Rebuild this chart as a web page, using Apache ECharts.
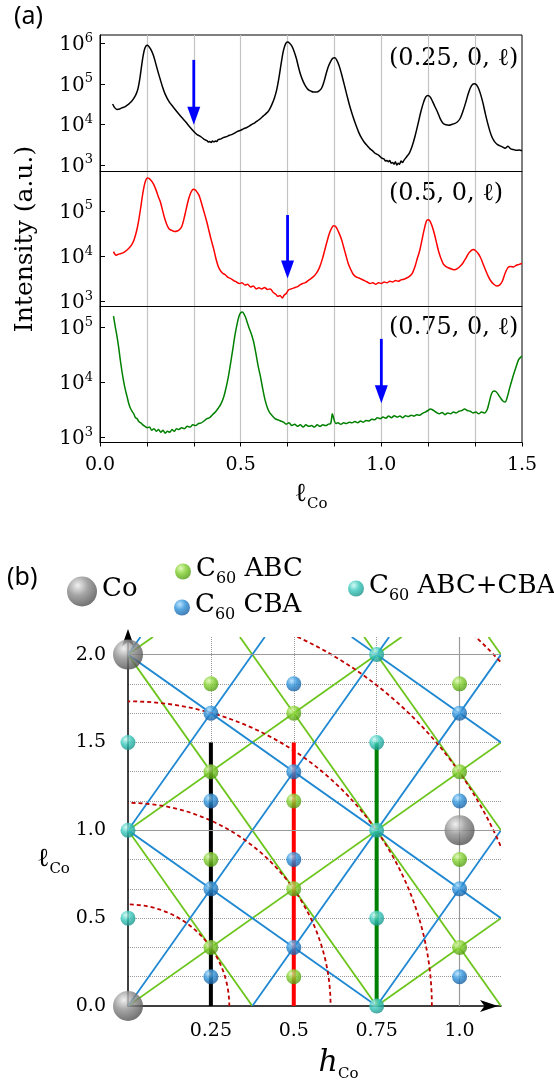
<!DOCTYPE html>
<html><head><meta charset="utf-8">
<script src="https://cdn.jsdelivr.net/npm/echarts@6/dist/echarts.min.js"></script>
<style>html,body{margin:0;padding:0;background:#fff}#c{width:554px;height:1089px}</style>
</head><body><div id="c"></div>
<script>
// ---------------- Panel (a) data: [l, intensity] ----------------
const scanBlack = [[0.045,3.2e4],[0.052,2.6e4],[0.060,2.35e4],[0.070,2.4e4],[0.080,2.6e4],[0.090,2.75e4],[0.100,3.1e4],[0.110,3.55e4],[0.120,4.4e4],[0.128,5.5e4],[0.135,7.6e4],[0.142,1.4e5],[0.150,3.55e5],[0.157,6.6e5],[0.163,8.5e5],[0.169,8.9e5],[0.175,8.1e5],[0.182,6.8e5],[0.190,5.0e5],[0.198,3.2e5],[0.206,2.0e5],[0.214,1.3e5],[0.222,8.5e4],[0.232,5.5e4],[0.245,3.7e4],[0.260,2.7e4],[0.275,2.0e4],[0.290,1.5e4],[0.305,1.15e4],[0.320,8.5e3],[0.335,6.5e3],[0.345,5.6e3],[0.352,5.3e3],[0.360,4.9e3],[0.370,4.3e3],[0.380,4.0e3],[0.385,3.7e3],[0.390,3.8e3],[0.395,3.6e3],[0.400,3.9e3],[0.405,3.7e3],[0.410,3.9e3],[0.415,3.8e3],[0.420,4.2e3],[0.430,4.4e3],[0.440,4.8e3],[0.450,5.0e3],[0.460,5.4e3],[0.470,5.7e3],[0.480,6.2e3],[0.490,6.8e3],[0.500,7.2e3],[0.510,7.8e3],[0.520,8.3e3],[0.530,9.1e3],[0.540,1.0e4],[0.550,1.1e4],[0.560,1.23e4],[0.570,1.38e4],[0.580,1.6e4],[0.590,1.85e4],[0.600,2.2e4],[0.610,3.0e4],[0.620,4.5e4],[0.628,7.1e4],[0.636,1.4e5],[0.644,3.2e5],[0.652,6.6e5],[0.660,9.8e5],[0.667,1.07e6],[0.674,1.0e6],[0.682,8.5e5],[0.690,6.3e5],[0.698,4.2e5],[0.706,2.5e5],[0.714,1.6e5],[0.722,1.15e5],[0.730,8.9e4],[0.740,7.2e4],[0.750,6.6e4],[0.760,6.3e4],[0.770,6.3e4],[0.780,6.8e4],[0.788,7.9e4],[0.796,1.12e5],[0.804,1.8e5],[0.812,2.7e5],[0.820,3.6e5],[0.828,4.3e5],[0.835,4.4e5],[0.842,3.8e5],[0.850,2.8e5],[0.858,1.8e5],[0.866,1.1e5],[0.874,6.6e4],[0.882,4.0e4],[0.890,2.5e4],[0.900,1.5e4],[0.910,9.5e3],[0.920,6.3e3],[0.930,4.6e3],[0.940,3.6e3],[0.950,3.0e3],[0.960,2.5e3],[0.970,2.2e3],[0.980,1.9e3],[0.990,1.75e3],[1.000,1.5e3],[1.005,1.45e3],[1.010,1.4e3],[1.015,1.25e3],[1.020,1.3e3],[1.025,1.2e3],[1.030,1.3e3],[1.035,1.1e3],[1.040,1.15e3],[1.045,1.05e3],[1.050,1.2e3],[1.055,1.0e3],[1.060,1.1e3],[1.065,1.05e3],[1.070,1.25e3],[1.075,1.15e3],[1.080,1.3e3],[1.090,1.6e3],[1.100,2.0e3],[1.110,3.0e3],[1.120,5.2e3],[1.130,1.0e4],[1.140,2.0e4],[1.150,3.5e4],[1.158,4.8e4],[1.166,5.2e4],[1.174,4.7e4],[1.182,3.7e4],[1.190,2.8e4],[1.200,2.0e4],[1.210,1.35e4],[1.220,1.05e4],[1.230,9.8e3],[1.240,9.6e3],[1.250,1.0e4],[1.260,1.05e4],[1.270,1.15e4],[1.280,1.4e4],[1.290,2.1e4],[1.300,3.5e4],[1.310,6.0e4],[1.320,8.9e4],[1.330,1.0e5],[1.338,9.5e4],[1.346,7.6e4],[1.354,5.2e4],[1.362,3.2e4],[1.370,1.8e4],[1.380,9.5e3],[1.390,5.6e3],[1.400,4.0e3],[1.410,3.3e3],[1.420,3.0e3],[1.430,2.8e3],[1.440,2.6e3],[1.450,2.9e3],[1.460,2.5e3],[1.470,2.4e3],[1.480,2.3e3],[1.490,2.35e3],[1.500,2.25e3]];

const scanRed = [[0.048,1.26e4],[0.053,1.1e4],[0.058,1.05e4],[0.065,1.1e4],[0.075,1.15e4],[0.085,1.22e4],[0.095,1.35e4],[0.105,1.55e4],[0.115,1.9e4],[0.122,2.4e4],[0.130,3.6e4],[0.137,5.9e4],[0.144,1.1e5],[0.150,2.0e5],[0.156,3.3e5],[0.162,4.6e5],[0.168,5.3e5],[0.174,5.2e5],[0.180,4.8e5],[0.186,4.3e5],[0.192,3.7e5],[0.200,2.8e5],[0.208,2.0e5],[0.215,1.55e5],[0.222,1.05e5],[0.230,6.8e4],[0.238,4.9e4],[0.246,4.0e4],[0.255,3.7e4],[0.265,3.5e4],[0.275,3.6e4],[0.283,3.9e4],[0.291,4.6e4],[0.298,6.5e4],[0.305,1.0e5],[0.312,1.55e5],[0.318,2.1e5],[0.325,2.7e5],[0.332,3.0e5],[0.338,2.9e5],[0.345,2.6e5],[0.352,2.2e5],[0.358,1.7e5],[0.365,1.2e5],[0.372,8.5e4],[0.380,5.6e4],[0.388,3.5e4],[0.396,2.2e4],[0.404,1.45e4],[0.412,8.9e3],[0.420,6.0e3],[0.428,4.8e3],[0.436,4.2e3],[0.445,3.9e3],[0.455,3.4e3],[0.465,3.2e3],[0.475,2.9e3],[0.485,2.7e3],[0.495,2.5e3],[0.505,2.6e3],[0.515,2.3e3],[0.525,2.4e3],[0.535,2.1e3],[0.545,2.2e3],[0.555,1.9e3],[0.565,2.0e3],[0.575,1.9e3],[0.585,2.05e3],[0.595,1.85e3],[0.605,1.9e3],[0.615,1.6e3],[0.625,1.45e3],[0.632,1.3e3],[0.640,1.35e3],[0.648,1.2e3],[0.655,1.4e3],[0.662,1.5e3],[0.670,1.8e3],[0.680,1.9e3],[0.690,2.0e3],[0.700,2.1e3],[0.710,2.3e3],[0.720,2.5e3],[0.730,2.6e3],[0.740,2.9e3],[0.750,3.2e3],[0.760,3.6e3],[0.770,4.3e3],[0.780,5.6e3],[0.790,8.5e3],[0.798,1.3e4],[0.806,2.0e4],[0.814,3.0e4],[0.822,4.0e4],[0.830,4.7e4],[0.836,4.6e4],[0.842,4.1e4],[0.850,3.2e4],[0.858,2.4e4],[0.866,1.6e4],[0.874,1.05e4],[0.882,7.0e3],[0.890,5.3e3],[0.900,4.0e3],[0.910,3.5e3],[0.920,3.3e3],[0.930,3.1e3],[0.940,2.9e3],[0.950,2.7e3],[0.960,2.5e3],[0.970,2.6e3],[0.980,2.4e3],[0.990,2.6e3],[1.000,2.5e3],[1.010,2.7e3],[1.020,2.6e3],[1.030,2.8e3],[1.040,2.7e3],[1.050,2.9e3],[1.060,2.8e3],[1.070,3.0e3],[1.080,3.1e3],[1.090,3.3e3],[1.100,3.6e3],[1.110,4.2e3],[1.120,6.0e3],[1.128,9.0e3],[1.136,1.3e4],[1.144,2.2e4],[1.152,3.8e4],[1.160,5.9e4],[1.166,6.4e4],[1.172,6.1e4],[1.180,4.7e4],[1.188,3.2e4],[1.196,2.0e4],[1.204,1.25e4],[1.212,8.9e3],[1.220,6.8e3],[1.230,5.9e3],[1.240,5.5e3],[1.250,5.2e3],[1.260,5.0e3],[1.270,5.3e3],[1.280,6.0e3],[1.290,7.1e3],[1.300,8.9e3],[1.310,1.15e4],[1.320,1.35e4],[1.328,1.4e4],[1.336,1.3e4],[1.344,1.15e4],[1.352,9.5e3],[1.360,7.2e3],[1.370,5.0e3],[1.380,3.6e3],[1.390,2.8e3],[1.400,2.4e3],[1.410,2.2e3],[1.420,2.3e3],[1.430,2.8e3],[1.440,4.2e3],[1.450,5.6e3],[1.460,5.9e3],[1.470,5.8e3],[1.480,6.3e3],[1.490,6.6e3],[1.500,7.0e3]];

const scanGreen = [[0.048,1.6e5],[0.054,1.05e5],[0.060,7.1e4],[0.066,4.5e4],[0.072,2.6e4],[0.078,1.6e4],[0.084,1.05e4],[0.090,7.4e3],[0.096,5.6e3],[0.102,4.2e3],[0.108,3.4e3],[0.114,3.0e3],[0.120,2.7e3],[0.126,2.3e3],[0.132,2.2e3],[0.138,1.95e3],[0.145,1.85e3],[0.152,1.7e3],[0.160,1.6e3],[0.168,1.5e3],[0.176,1.55e3],[0.184,1.35e3],[0.192,1.45e3],[0.200,1.3e3],[0.208,1.4e3],[0.216,1.25e3],[0.224,1.35e3],[0.232,1.2e3],[0.240,1.3e3],[0.248,1.25e3],[0.256,1.4e3],[0.264,1.3e3],[0.272,1.45e3],[0.280,1.4e3],[0.290,1.5e3],[0.300,1.45e3],[0.310,1.6e3],[0.320,1.55e3],[0.330,1.7e3],[0.340,1.65e3],[0.350,1.8e3],[0.360,1.85e3],[0.370,2.0e3],[0.380,2.2e3],[0.390,2.3e3],[0.400,2.6e3],[0.410,2.9e3],[0.420,3.4e3],[0.430,4.1e3],[0.440,5.5e3],[0.448,8.0e3],[0.456,1.25e4],[0.464,2.2e4],[0.472,4.0e4],[0.480,7.4e4],[0.488,1.2e5],[0.494,1.6e5],[0.500,1.85e5],[0.506,1.9e5],[0.512,1.75e5],[0.518,1.5e5],[0.524,1.2e5],[0.530,9.8e4],[0.538,7.6e4],[0.546,5.5e4],[0.554,3.4e4],[0.562,2.0e4],[0.570,1.3e4],[0.578,7.9e3],[0.586,5.0e3],[0.594,3.6e3],[0.602,2.9e3],[0.612,2.5e3],[0.622,2.2e3],[0.632,2.1e3],[0.642,2.0e3],[0.652,1.9e3],[0.662,1.75e3],[0.672,1.85e3],[0.682,1.65e3],[0.692,1.75e3],[0.702,1.6e3],[0.712,1.7e3],[0.722,1.55e3],[0.732,1.7e3],[0.742,1.6e3],[0.752,1.65e3],[0.762,1.55e3],[0.772,1.7e3],[0.782,1.6e3],[0.792,1.7e3],[0.802,1.65e3],[0.812,1.75e3],[0.820,1.8e3],[0.826,2.7e3],[0.832,2.1e3],[0.838,1.8e3],[0.846,1.85e3],[0.856,1.75e3],[0.866,1.85e3],[0.876,1.8e3],[0.886,1.9e3],[0.896,1.85e3],[0.906,1.95e3],[0.916,1.85e3],[0.926,2.0e3],[0.936,1.9e3],[0.946,2.05e3],[0.956,2.0e3],[0.966,2.15e3],[0.976,2.1e3],[0.986,2.3e3],[0.996,2.2e3],[1.006,2.35e3],[1.016,2.25e3],[1.026,2.45e3],[1.036,2.3e3],[1.046,2.5e3],[1.056,2.35e3],[1.066,2.45e3],[1.076,2.3e3],[1.086,2.5e3],[1.096,2.4e3],[1.106,2.55e3],[1.116,2.45e3],[1.126,2.6e3],[1.136,2.55e3],[1.146,2.75e3],[1.156,2.9e3],[1.166,3.1e3],[1.174,3.3e3],[1.182,3.2e3],[1.190,3.0e3],[1.198,2.8e3],[1.206,2.7e3],[1.216,2.85e3],[1.226,2.6e3],[1.236,2.8e3],[1.246,2.7e3],[1.256,2.9e3],[1.266,2.8e3],[1.276,3.0e3],[1.286,3.1e3],[1.296,3.3e3],[1.306,3.1e3],[1.316,3.0e3],[1.326,2.8e3],[1.336,2.9e3],[1.346,2.7e3],[1.356,2.9e3],[1.366,2.8e3],[1.376,3.2e3],[1.384,4.5e3],[1.392,6.3e3],[1.400,7.0e3],[1.408,6.8e3],[1.416,6.0e3],[1.424,5.2e3],[1.432,4.6e3],[1.440,4.4e3],[1.448,5.5e3],[1.456,7.9e3],[1.464,1.1e4],[1.472,1.5e4],[1.480,2.0e4],[1.488,2.6e4],[1.496,2.9e4],[1.500,3.0e4]];

const scanNames  = ['(0.25, 0, ℓ)', '(0.5, 0, ℓ)', '(0.75, 0, ℓ)'];
const arrowL     = [1/3, 2/3, 1.0];
const arrowFrom  = [3.9e5, 8.1e4, 6.2e4];
const arrowTo    = [9.8e3, 3.2e3, 4.2e3];
const xTickValsA = [0, 0.5, 1.0, 1.5];
const xTickTextA = ['0.0', '0.5', '1.0', '1.5'];
const decadeExp  = [3, 4, 5, 6];

// ---------------- Panel (b) data ----------------
const coPos   = [[0,0],[0,2],[1,1]];
const abcPos  = [[0.25,1/3],[0.25,5/6],[0.25,4/3],[0.25,11/6],[0.5,1/6],[0.5,2/3],[0.5,7/6],[0.5,5/3],[1,1/3],[1,5/6],[1,4/3],[1,11/6]];
const cbaPos  = [[0.25,1/6],[0.25,2/3],[0.25,7/6],[0.25,5/3],[0.5,1/3],[0.5,5/6],[0.5,4/3],[0.5,11/6],[1,1/6],[1,2/3],[1,7/6],[1,5/3]];
const bothPos = [[0,0.5],[0,1],[0,1.5],[0.75,0],[0.75,0.5],[0.75,1],[0.75,1.5],[0.75,2]];
const abcRods = [[0,0,1.125,1.5],[0,1,0.825,2.1],[0.75,0,1.125,0.5],[0,2,0.075,2.1],[0,1,0.375,0],[0,2,0.75,0],[0.3375,2.1,1.125,0],[0.7125,2.1,1.125,1],[1.0875,2.1,1.125,2]];
const cbaRods = [[0,0,0.7875,2.1],[0.375,0,1.125,2],[0.75,0,1.125,1],[0,1,0.4125,2.1],[0,2,0.0375,2.1],[0,1,0.75,0],[0,2,1.125,0.5],[0.675,2.1,1.125,1.5]];
const shellH  = [0.3055, 0.611, 0.9165, 1.222, 1.5275];
const shellL  = [0.578, 1.156, 1.734, 2.312, 2.89];
const cutH    = [0.25, 0.5, 0.75];
const cutTop  = 1.5;
const xTickValsB = [0.25, 0.5, 0.75, 1.0];
const xTickTextB = ['0.25', '0.5', '0.75', '1.0'];
const yTickValsB = [0, 0.5, 1.0, 1.5, 2.0];
const yTickTextB = ['0.0', '0.5', '1.0', '1.5', '2.0'];
const solidL = [1, 2];
const solidH = [1];
const legendNames = ['Co', 'C60 ABC', 'C60 CBA', 'C60 ABC+CBA'];

// ---------------- helpers ----------------
const FONT = 'DejaVu Serif';
function pick(v, vals, texts) {
  for (let i = 0; i < vals.length; i++) if (Math.abs(v - vals[i]) < 1e-6) return texts[i];
  return '';
}
function ball(hi, mid, lo) {
  return { type: 'radial', x: 0.36, y: 0.3, r: 0.75,
    colorStops: [{ offset: 0, color: hi }, { offset: 0.45, color: mid }, { offset: 1, color: lo }] };
}
const scanColors = ['#000000', '#ff0000', '#008000'];
const scans = [scanBlack, scanRed, scanGreen];
const gridsA = [
  { left: 100, right: 32, top: 35, height: 136.5 },
  { left: 100, right: 32, top: 171.5, height: 135 },
  { left: 100, right: 32, top: 306.5, height: 136 }
];
const yRangeA = [[692, 1.6e6], [776, 7.4e5], [813, 2.4e5]];

const subRich = {
  l: { fontFamily: FONT, fontSize: 26, color: '#000', verticalAlign: 'bottom', padding: [0, 0, 4, 0] },
  h: { fontFamily: FONT, fontSize: 30, color: '#000', fontStyle: 'italic', verticalAlign: 'bottom', padding: [0, 0, 4, 0] },
  s: { fontFamily: FONT, fontSize: 15, color: '#000', verticalAlign: 'bottom' }
};

const xAxes = gridsA.map((g, i) => ({
  type: 'value', gridIndex: i, min: 0, max: 1.5, interval: 1 / 6,
  axisLine: { show: true, lineStyle: { color: '#000', width: 1 } },
  axisTick: { show: i === 2, length: 4, lineStyle: { color: '#000' } },
  axisLabel: { show: i === 2, interval: 0, margin: 13, fontFamily: FONT, fontSize: 19, color: '#000',
    formatter: v => pick(v, xTickValsA, xTickTextA) },
  splitLine: { show: true, showMinLine: false, showMaxLine: false, lineStyle: { color: '#c4c4c4', width: 1.2 } },
  name: i === 2 ? '{l|ℓ}{s|Co}' : '', nameLocation: 'middle', nameGap: 39,
  nameTextStyle: { rich: subRich }
}));
const yAxes = gridsA.map((g, i) => ({
  type: 'log', logBase: 10, gridIndex: i, min: yRangeA[i][0], max: yRangeA[i][1],
  axisLine: { show: true, lineStyle: { color: '#000', width: 1 } },
  axisTick: { show: true, inside: true, length: 5, lineStyle: { color: '#000' } },
  splitLine: { show: false },
  axisLabel: { margin: 7, showMinLabel: false, showMaxLabel: false,
    formatter: v => {
      const e = Math.log10(v), k = Math.round(e);
      if (Math.abs(e - k) > 0.01) return '';
      const idx = decadeExp.indexOf(k);
      return idx < 0 ? '' : '{n|10}{e|' + decadeExp[idx] + '}';
    },
    rich: {
      n: { fontFamily: FONT, fontSize: 20, color: '#000', verticalAlign: 'bottom' },
      e: { fontFamily: FONT, fontSize: 13, color: '#000', verticalAlign: 'bottom', padding: [0, 0, 10, 0] }
    } },
  name: i === 1 ? 'Intensity (a.u.)' : '', nameLocation: 'middle', nameGap: 62,
  nameTextStyle: { fontFamily: FONT, fontSize: 25, color: '#000' }
}));

// panel (b) axes
xAxes.push({
  type: 'value', gridIndex: 3, min: 0, max: 1.125, interval: 0.25,
  axisLine: { show: true, symbol: ['none', 'arrow'], symbolSize: [9, 18], symbolOffset: [0, -3], lineStyle: { color: '#000', width: 1.5 } },
  axisTick: { show: false },
  axisLabel: { interval: 0, margin: 16, fontFamily: FONT, fontSize: 19, color: '#000',
    formatter: v => pick(v, xTickValsB, xTickTextB) },
  splitLine: { show: true, showMinLine: false, showMaxLine: false, lineStyle: { color: '#9a9a9a', width: 1, type: 'dotted' } },
  name: '{h|ℎ}{s|Co}', nameLocation: 'middle', nameGap: 42,
  nameTextStyle: { rich: subRich, padding: [0, 0, 0, 48] }
});
yAxes.push({
  type: 'value', gridIndex: 3, min: 0, max: 2.1, interval: 1 / 6,
  axisLine: { show: true, symbol: ['none', 'arrow'], symbolSize: [9, 17], symbolOffset: [0, 8], lineStyle: { color: '#000', width: 1.5 } },
  axisTick: { show: false },
  axisLabel: { interval: 0, margin: 22, fontFamily: FONT, fontSize: 19, color: '#000',
    formatter: v => pick(v, yTickValsB, yTickTextB) },
  splitLine: { show: true, showMinLine: false, showMaxLine: false, lineStyle: { color: '#9a9a9a', width: 1, type: 'dotted' } },
  name: '{l|ℓ}{s|Co}', nameLocation: 'middle', nameRotate: 0, nameGap: 47,
  nameTextStyle: { rich: subRich, padding: [80, 0, 0, 0] }
});

const series = [];
scans.forEach((d, i) => {
  series.push({ type: 'line', name: 'scan' + i, xAxisIndex: i, yAxisIndex: i, data: d,
    showSymbol: false, smooth: 0.3, lineStyle: { color: scanColors[i], width: 1.5 },
    itemStyle: { color: scanColors[i] }, z: 3 });
  series.push({ type: 'custom', name: 'arrow' + i, xAxisIndex: i, yAxisIndex: i,
    data: [[arrowL[i], arrowFrom[i], arrowTo[i]]], encode: { x: 0, y: [1, 2] }, z: 5,
    renderItem: (params, api) => {
      const p1 = api.coord([api.value(0), api.value(1)]);
      const p2 = api.coord([api.value(0), api.value(2)]);
      const hw = 6.5, hh = 18;
      return { type: 'group', children: [
        { type: 'line', shape: { x1: p1[0], y1: p1[1], x2: p2[0], y2: p2[1] - hh + 2 }, style: { stroke: '#0000ff', lineWidth: 2.8 } },
        { type: 'polygon', shape: { points: [[p2[0] - hw, p2[1] - hh], [p2[0] + hw, p2[1] - hh], [p2[0], p2[1]]] }, style: { fill: '#0000ff' } }
      ] };
    } });
});

function segSeries(name, data, color) {
  return { type: 'custom', name, xAxisIndex: 3, yAxisIndex: 3, data, clip: true, z: 2,
    encode: { x: [0, 2], y: [1, 3] },
    renderItem: (params, api) => {
      const a = api.coord([api.value(0), api.value(1)]);
      const b = api.coord([api.value(2), api.value(3)]);
      return { type: 'line', shape: { x1: a[0], y1: a[1], x2: b[0], y2: b[1] }, style: { stroke: color, lineWidth: 1.8 } };
    } };
}
const gSeg = segSeries('abcRods', abcRods, '#6cc51c');
gSeg.markLine = { silent: true, symbol: 'none', animation: false, label: { show: false },
  lineStyle: { color: '#9a9a9a', width: 1.2, type: 'solid' },
  data: solidL.map(v => ({ yAxis: v })).concat(solidH.map(v => ({ xAxis: v }))) };
series.push(gSeg);
series.push(segSeries('cbaRods', cbaRods, '#1f88d2'));
series.push({ type: 'custom', name: 'shells', xAxisIndex: 3, yAxisIndex: 3, clip: true, z: 3,
  data: shellH.map((h, i) => [h, shellL[i]]), encode: { x: 0, y: 1 },
  renderItem: (params, api) => {
    const o = api.coord([0, 0]);
    const a = api.coord([api.value(0), 0]);
    const b = api.coord([0, api.value(1)]);
    return { type: 'ellipse', shape: { cx: o[0], cy: o[1], rx: a[0] - o[0], ry: o[1] - b[1] },
      style: { fill: 'none', stroke: '#c00000', lineWidth: 1.8, lineDash: [4, 3] } };
  } });
cutH.forEach((h, i) => {
  series.push({ type: 'line', name: 'cut' + i, xAxisIndex: 3, yAxisIndex: 3, data: [[h, 0], [h, cutTop]],
    showSymbol: false, lineStyle: { color: scanColors[i], width: 4 }, itemStyle: { color: scanColors[i] }, z: 4 });
});
const ballDefs = [
  { name: legendNames[0], data: coPos, size: 30, color: ball('#ececec', '#8e8e8e', '#4a4a4a') },
  { name: legendNames[1], data: abcPos, size: 15, color: ball('#dcf8ad', '#80cf2c', '#4b960f') },
  { name: legendNames[2], data: cbaPos, size: 15, color: ball('#acdfff', '#2c91da', '#165a9c') },
  { name: legendNames[3], data: bothPos, size: 15, color: ball('#c8f8f2', '#38c8bc', '#168f86') }
];
ballDefs.forEach(b => {
  series.push({ type: 'scatter', name: b.name, xAxisIndex: 3, yAxisIndex: 3, data: b.data, clip: false,
    symbol: 'circle', symbolSize: b.size, itemStyle: { color: b.color }, z: 6 });
});

const legendRich = {
  t: { fontFamily: FONT, fontSize: 26, color: '#000', verticalAlign: 'bottom', padding: [0, 0, 5, 0] },
  s: { fontFamily: FONT, fontSize: 16, color: '#000', verticalAlign: 'bottom' }
};
const legendPos = [[67, 576, 30], [175, 556, 16], [174, 592, 16], [348, 573, 16]];
const legends = legendNames.map((n, i) => ({
  data: [n], left: legendPos[i][0], top: legendPos[i][1], padding: 0,
  itemWidth: legendPos[i][2], itemHeight: legendPos[i][2], icon: 'circle', selectedMode: false,
  formatter: name => '{t|' + name.replace('60', '}{s|60}{t|') + '}',
  textStyle: { rich: legendRich }
}));

const option = {
  animation: false,
  backgroundColor: '#ffffff',
  grid: gridsA.map(g => Object.assign({ show: true, borderColor: '#000', borderWidth: 1, backgroundColor: 'transparent' }, g))
    .concat([{ left: 128, right: 53, top: 637, bottom: 83 }]),
  xAxis: xAxes,
  yAxis: yAxes,
  legend: legends,
  series,
  graphic: [
    { type: 'text', left: 14, top: 4, style: { text: '(a)', font: '25px "Noto Sans"', fill: '#000' } },
    { type: 'text', left: 7, top: 565, style: { text: '(b)', font: '25px "Noto Sans"', fill: '#000' } },
    { type: 'text', left: 389, top: 47, style: { text: scanNames[0], font: '24px "DejaVu Serif"', fill: '#000' } },
    { type: 'text', left: 389, top: 182, style: { text: scanNames[1], font: '24px "DejaVu Serif"', fill: '#000' } },
    { type: 'text', left: 389, top: 316, style: { text: scanNames[2], font: '24px "DejaVu Serif"', fill: '#000' } }
  ]
};
const chart = echarts.init(document.getElementById('c'), null, { renderer: 'canvas' });
chart.setOption(option);
</script></body></html>
